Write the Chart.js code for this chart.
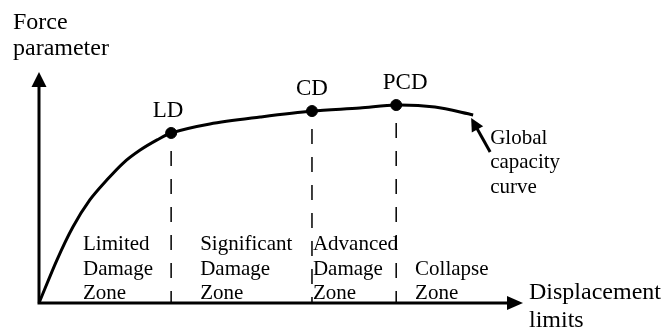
<!DOCTYPE html>
<html>
<head>
<meta charset="utf-8">
<title>Global capacity curve</title>
<script src="https://cdn.jsdelivr.net/npm/chart.js@4.4.1/dist/chart.umd.min.js"></script>
<style>
  html, body { margin: 0; padding: 0; background: #fff; }
  #wrap { width: 666px; height: 329px; position: relative; }
</style>
</head>
<body>
<div id="wrap"><canvas id="grafico"></canvas></div>
<script>
// capacity curve (displacement, force) in arbitrary units 0..10
const curveX = [0, 0.37, 0.70, 1.05, 1.40, 1.74, 2.09, 2.44, 2.73, 3.53, 4.57, 5.64, 6.63, 7.38, 8.18, 8.97];
const curveY = [0, 1.86, 3.29, 4.46, 5.32, 6.06, 6.62, 7.06, 7.36, 7.75, 8.05, 8.31, 8.44, 8.57, 8.48, 8.14];

// performance points on the curve
const pointNames = ['LD', 'CD', 'PCD'];
const pointX = [2.73, 5.64, 7.38];
const pointY = [7.36, 8.31, 8.57];

// damage zones (text lines) and where each starts on the displacement axis
const zoneLines = [
    ['Limited', 'Damage', 'Zone'],
    ['Significant', 'Damage', 'Zone'],
    ['Advanced', 'Damage', 'Zone'],
    ['Collapse', 'Zone']
];
const zoneStart = [0.91, 3.33, 5.66, 7.77];

const yTitle = ['Force', 'parameter'];
const xTitle = ['Displacement', 'limits'];
const curveNote = ['Global', 'capacity', 'curve'];

const SERIF = '"Liberation Serif", "Times New Roman", serif';

// dashed drop lines from each point down to the displacement axis
const dropSets = pointX.map((x, i) => ({
    type: 'line',
    data: [{ x: x, y: pointY[i] }, { x: x, y: 0 }],
    borderColor: '#000',
    borderWidth: 1.5,
    borderDash: [15, 13],
    borderDashOffset: 10,
    pointRadius: 0,
    fill: false,
    order: 3
}));

function arrowHead(ctx, tipX, tipY, angle, len, half) {
    ctx.save();
    ctx.translate(tipX, tipY);
    ctx.rotate(angle);
    ctx.beginPath();
    ctx.moveTo(0, 0);
    ctx.lineTo(-len, -half);
    ctx.lineTo(-len, half);
    ctx.closePath();
    ctx.fill();
    ctx.restore();
}

const desenhoExtra = {
    id: 'desenhoExtra',
    afterDatasetsDraw(chart) {
        const ctx = chart.ctx;
        const sx = chart.scales.x;
        const sy = chart.scales.y;
        const x0 = sx.getPixelForValue(0);
        const y0 = sy.getPixelForValue(0);
        const xEnd = sx.getPixelForValue(10);
        const yEnd = sy.getPixelForValue(10);

        ctx.save();
        ctx.strokeStyle = '#000';
        ctx.fillStyle = '#000';

        // axes
        ctx.lineWidth = 3;
        ctx.beginPath();
        ctx.moveTo(x0, yEnd + 12);
        ctx.lineTo(x0, y0);
        ctx.lineTo(xEnd - 12, y0);
        ctx.stroke();
        arrowHead(ctx, x0, yEnd, -Math.PI / 2, 15, 7.5);
        arrowHead(ctx, xEnd, y0, 0, 16, 7);

        // axis titles
        ctx.textAlign = 'left';
        ctx.textBaseline = 'alphabetic';
        ctx.font = '24px ' + SERIF;
        ctx.fillText(yTitle[0], x0 - 26, yEnd - 43);
        ctx.fillText(yTitle[1], x0 - 26, yEnd - 17);
        ctx.fillText(xTitle[0], xEnd + 6, y0 - 4);
        ctx.fillText(xTitle[1], xEnd + 6, y0 + 24);

        // point labels
        ctx.font = '23px ' + SERIF;
        ctx.textAlign = 'center';
        const labelShift = [-3, 0, 9];
        pointNames.forEach((name, i) => {
            const px = sx.getPixelForValue(pointX[i]);
            const py = sy.getPixelForValue(pointY[i]);
            ctx.fillText(name, px + labelShift[i], py - 16);
        });

        // zone labels, bottom line sits just above the axis
        ctx.font = '21px ' + SERIF;
        ctx.textAlign = 'left';
        zoneLines.forEach((lines, i) => {
            const left = sx.getPixelForValue(zoneStart[i]);
            const n = lines.length;
            lines.forEach((t, j) => {
                ctx.fillText(t, left, y0 - 4 - (n - 1 - j) * 24.5);
            });
        });

        // note pointing at the end of the curve
        const endX = sx.getPixelForValue(curveX[curveX.length - 1]);
        const endY = sy.getPixelForValue(curveY[curveY.length - 1]);
        const noteX = endX + 17;
        const noteY = endY + 29;
        curveNote.forEach((t, j) => {
            ctx.fillText(t, noteX, noteY + j * 24.5);
        });
        const tipX = endX - 2;
        const tipY = endY + 3;
        const fromX = noteX;
        const fromY = noteY + 8;
        const ang = Math.atan2(tipY - fromY, tipX - fromX);
        ctx.lineWidth = 3;
        ctx.beginPath();
        ctx.moveTo(fromX, fromY);
        ctx.lineTo(tipX - Math.cos(ang) * 10, tipY - Math.sin(ang) * 10);
        ctx.stroke();
        arrowHead(ctx, tipX, tipY, ang, 13, 6.5);

        ctx.restore();
    }
};

new Chart(document.getElementById('grafico').getContext('2d'), {
    type: 'line',
    data: {
        datasets: [
            {
                data: curveX.map((x, i) => ({ x: x, y: curveY[i] })),
                borderColor: '#000',
                borderWidth: 3,
                pointRadius: 0,
                tension: 0.3,
                fill: false,
                order: 2
            },
            {
                data: pointX.map((x, i) => ({ x: x, y: pointY[i] })),
                showLine: false,
                pointRadius: 5.5,
                pointBackgroundColor: '#000',
                pointBorderColor: '#000',
                order: 1
            },
            ...dropSets
        ]
    },
    options: {
        responsive: true,
        maintainAspectRatio: false,
        animation: false,
        devicePixelRatio: 1,
        layout: { padding: { left: 39, right: 143, top: 72, bottom: 26 } },
        clip: false,
        plugins: {
            legend: { display: false },
            tooltip: { enabled: false }
        },
        scales: {
            x: { type: 'linear', min: 0, max: 10, display: false },
            y: { type: 'linear', min: 0, max: 10, display: false }
        }
    },
    plugins: [desenhoExtra]
});
</script>
</body>
</html>
